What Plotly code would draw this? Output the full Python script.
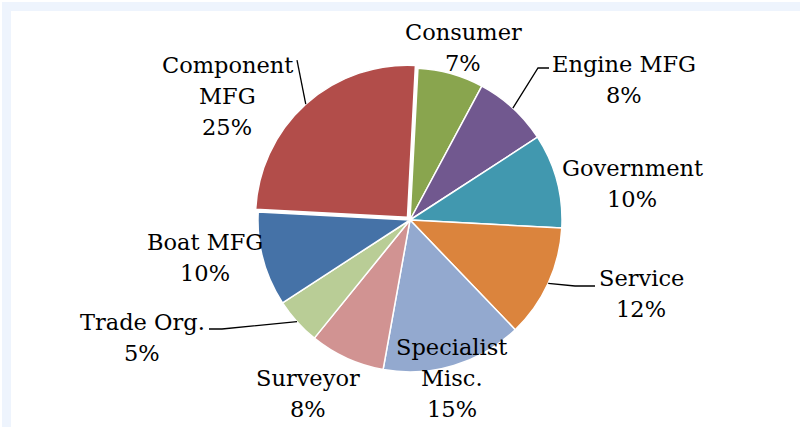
import math
import plotly.graph_objects as go

# ---------------- data ----------------
categories = ["Consumer", "Engine MFG", "Government", "Service", "Specialist Misc.",
              "Surveyor", "Trade Org.", "Boat MFG", "Component MFG"]
values = [7, 8, 10, 12, 15, 8, 5, 10, 25]
label_lines = [["Consumer"], ["Engine MFG"], ["Government"], ["Service"],
               ["Specialist", "Misc."], ["Surveyor"], ["Trade Org."], ["Boat MFG"],
               ["Component", "MFG"]]
colors = ["#89A54E", "#71588F", "#4198AF", "#DB843D", "#93A9CF",
          "#D19392", "#B9CD96", "#4572A7", "#B24D4A"]
pulls = [0, 0, 0, 0, 0, 0, 0, 0, 0.025]

# ---------------- layout geometry (pixels) ----------------
W, H = 800, 427
CX, CY, R = 410, 220, 152
ROT = 3
max_pull = max(pulls)
half = R * (1 + max_pull)

# label anchor = centre of first text line
label_pos = [(463, 32), (624, 64), (632, 168), (641, 278), (452, 347),
             (308, 378), (142, 322), (205, 242), (227, 65)]
LINE_H = 31
# leader lines: list of way points after the slice edge (None = no leader)
leaders = [None, [(538, 68), (549, 68)], None, [(575, 286), (595, 286)], None,
           None, [(222, 329), (209, 329)], None, [(297, 60)]]


def px(x):
    return x / W


def py(y):
    return 1 - y / H


fig = go.Figure()
fig.add_trace(go.Pie(
    labels=categories, values=values, sort=False, direction="clockwise",
    rotation=ROT, pull=pulls,
    marker=dict(colors=colors, line=dict(color="white", width=1.5)),
    textinfo="none", hoverinfo="label+percent", showlegend=False,
    domain=dict(x=[px(CX - half), px(CX + half)], y=[py(CY + half), py(CY - half)]),
))

total = sum(values)
annotations = []
shapes = []
cum = 0
for i, v in enumerate(values):
    pct = round(v / total * 100)
    lines = label_lines[i] + [f"{pct}%"]
    lx, ly = label_pos[i]
    for j, t in enumerate(lines):
        annotations.append(dict(
            x=px(lx), y=py(ly + j * LINE_H), xref="paper", yref="paper",
            text=t, showarrow=False, xanchor="center", yanchor="middle",
            font=dict(family="DejaVu Serif", size=22.5, color="#000000")))
    mid = math.radians(ROT + (cum + v / 2) / total * 360)
    cum += v
    if leaders[i]:
        ox = CX + pulls[i] * R * math.sin(mid)
        oy = CY - pulls[i] * R * math.cos(mid)
        ex = ox + R * math.sin(mid)
        ey = oy - R * math.cos(mid)
        pts = [(ex, ey)] + leaders[i]
        path = "M " + " L ".join(f"{px(a):.5f},{py(b):.5f}" for a, b in pts)
        shapes.append(dict(type="path", xref="paper", yref="paper", path=path,
                           line=dict(color="#000000", width=1.3)))

# frame with soft glow (left/top visible, right/bottom run off the canvas)
for w_, c_, off in [(9, "#EEF4FD", 6.5), (6, "#D6E6FA", 8), (3, "#A6C8F3", 9.5)]:
    shapes.insert(0, dict(type="rect", xref="paper", yref="paper",
                          x0=px(off), y0=py(H + 20), x1=px(W + 20), y1=py(off),
                          line=dict(color=c_, width=w_), layer="below"))

fig.update_layout(
    width=W, height=H, margin=dict(l=0, r=0, t=0, b=0),
    paper_bgcolor="white", plot_bgcolor="white",
    annotations=annotations, shapes=shapes, showlegend=False,
)
fig.write_html("out.html")
